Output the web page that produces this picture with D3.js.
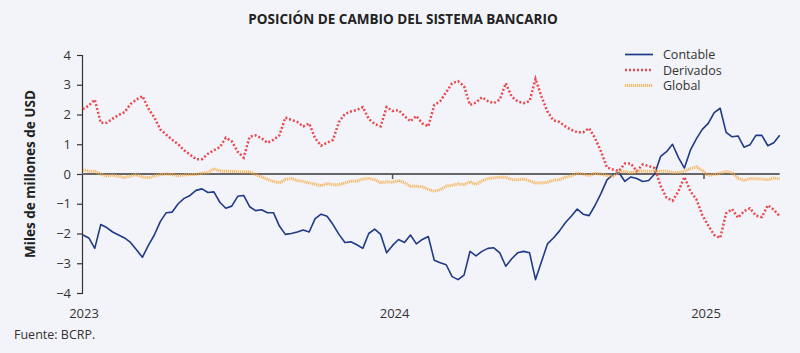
<!DOCTYPE html>
<html>
<head>
<meta charset="utf-8">
<script src="https://cdn.jsdelivr.net/npm/d3@7"></script>
<style>
    body { margin: 0; background: #f3f4f9; }
    svg { display: block; font-family: 'Open Sans', sans-serif; }
</style>
</head>
<body>
<svg></svg>
<script>
const w = 800;
const h = 353;

// weekly observations, Jan 2023 - Mar 2025 (values in miles de millones USD)
const startDate = new Date(2023, 0, 2);
const endDate = new Date(2025, 3, 1);

const contable = [
    -2.05, -2.15, -2.5, -1.7, -1.8, -1.95, -2.05, -2.15, -2.3, -2.55,
    -2.8, -2.4, -2.05, -1.6, -1.3, -1.28, -1.0, -0.82, -0.72, -0.55,
    -0.5, -0.62, -0.6, -0.95, -1.15, -1.08, -0.75, -0.72, -1.1, -1.23,
    -1.2, -1.3, -1.3, -1.75, -2.03, -2.0, -1.95, -1.88, -1.95, -1.5,
    -1.35, -1.42, -1.7, -2.03, -2.3, -2.28, -2.38, -2.5, -2.0, -1.85,
    -2.03, -2.65, -2.4, -2.2, -2.3, -2.05, -2.35, -2.2, -2.1, -2.9,
    -2.98, -3.05, -3.45, -3.55, -3.4, -2.6, -2.75, -2.6, -2.5, -2.48,
    -2.65, -3.1, -2.85, -2.65, -2.6, -2.65, -3.55, -2.95, -2.35, -2.15,
    -1.92, -1.64, -1.42, -1.18, -1.35, -1.4, -1.05, -0.65, -0.2, -0.02,
    0.05, -0.25, -0.1, -0.15, -0.25, -0.22, 0.0, 0.59, 0.75, 1.0,
    0.55, 0.2, 0.8, 1.18, 1.5, 1.7, 2.06, 2.21, 1.4, 1.25,
    1.28, 0.9, 0.98, 1.3, 1.3, 0.95, 1.05, 1.3
];
const derivados = [
    2.18, 2.3, 2.5, 1.72, 1.72, 1.86, 1.98, 2.08, 2.35, 2.5,
    2.62, 2.2, 1.9, 1.5, 1.32, 1.15, 1.0, 0.8, 0.65, 0.5,
    0.5, 0.68, 0.8, 0.9, 1.22, 1.1, 0.75, 0.55, 1.25, 1.3,
    1.2, 1.05, 1.15, 1.3, 1.9, 1.82, 1.75, 1.6, 1.7, 1.2,
    0.95, 1.05, 1.15, 1.75, 2.02, 2.1, 2.15, 2.25, 1.85, 1.68,
    1.6, 2.25, 2.12, 2.15, 1.95, 1.77, 1.95, 1.7, 1.6, 2.32,
    2.45, 2.75, 3.05, 3.12, 2.95, 2.32, 2.4, 2.58, 2.45, 2.38,
    2.5, 3.05, 2.6, 2.44, 2.38, 2.45, 3.2, 2.6, 2.1, 1.8,
    1.75, 1.6, 1.49, 1.4, 1.4, 1.54, 1.2, 0.75, 0.22, 0.15,
    0.1, 0.35, 0.35, 0.1, 0.32, 0.27, 0.2, -0.4, -0.8, -0.9,
    -0.58, -0.1, -0.58, -0.85, -1.38, -1.73, -2.05, -2.15, -1.32, -1.18,
    -1.47, -1.25, -1.15, -1.4, -1.45, -1.05, -1.2, -1.42
];
const global = [
    0.14, 0.09, 0.09, 0.0, -0.07, -0.04, -0.08, -0.12, -0.07, -0.02,
    -0.1, -0.13, -0.07, -0.02, 0.0, -0.02, -0.06, -0.03, -0.02, -0.02,
    0.03, 0.05, 0.18, 0.1, 0.09, 0.09, 0.08, 0.07, 0.08, -0.02,
    -0.1, -0.18, -0.25, -0.3, -0.18, -0.15, -0.22, -0.25, -0.3, -0.34,
    -0.4, -0.32, -0.36, -0.36, -0.3, -0.24, -0.24, -0.17, -0.15, -0.19,
    -0.3, -0.26, -0.28, -0.22, -0.29, -0.41, -0.41, -0.43, -0.52, -0.58,
    -0.53, -0.41, -0.38, -0.33, -0.36, -0.26, -0.35, -0.24, -0.15, -0.13,
    -0.11, -0.11, -0.19, -0.19, -0.17, -0.23, -0.3, -0.3, -0.28, -0.21,
    -0.19, -0.11, -0.06, 0.03, 0.0, -0.06, 0.02, 0.0, -0.05, -0.08,
    0.07, 0.09, 0.04, 0.09, 0.1, 0.09, 0.1, 0.09, 0.1, 0.05,
    0.05, 0.1, 0.18, 0.24, 0.12, -0.05, -0.02, 0.03, 0.09, 0.05,
    -0.15, -0.21, -0.16, -0.16, -0.17, -0.19, -0.14, -0.16
];

const yTicks = [-4, -3, -2, -1, 0, 1, 2, 3, 4];
const yearTicks = [new Date(2023, 0, 1), new Date(2024, 0, 1), new Date(2025, 0, 1)];

const seriesNames = ['Contable', 'Derivados', 'Global'];
const seriesColors = ['#1f3a87', '#ea4a4f', '#f6a941'];

const dates = d3.timeMonday.range(startDate, endDate);

const svg = d3.select('svg').attr('width', w).attr('height', h);

svg.append('rect').attr('width', w).attr('height', h).attr('fill', '#f3f4f9');

const xScale = d3
    .scaleTime()
    .domain([new Date(2023, 0, 1), new Date(2025, 0, 1)])
    .range([82, 704]);
const yScale = d3
    .scaleLinear()
    .domain([-4, 4])
    .range([293, 55]);

// title
svg.append('text')
    .attr('x', 403)
    .attr('y', 24)
    .attr('text-anchor', 'middle')
    .attr('font-size', 13.5)
    .attr('font-weight', 'bold')
    .attr('fill', '#222')
    .text('POSICIÓN DE CAMBIO DEL SISTEMA BANCARIO');

// y axis
const yAxis = d3.axisLeft(yScale).tickValues(yTicks).tickSize(5).tickPadding(6);
const gy = svg.append('g')
    .attr('transform', 'translate(82,0)')
    .call(yAxis);
gy.select('.domain').attr('stroke', '#333').attr('stroke-width', 1.2);
gy.selectAll('.tick line').attr('stroke', '#333').attr('stroke-width', 1.2);
gy.selectAll('.tick text')
    .attr('font-size', 13)
    .attr('fill', '#333')
    .attr('font-family', "'Open Sans', sans-serif");

svg.append('text')
    .attr('transform', 'translate(35,' + yScale(0) + ') rotate(-90)')
    .attr('text-anchor', 'middle')
    .attr('font-size', 13.5)
    .attr('font-weight', 'bold')
    .attr('fill', '#222')
    .text('Miles de millones de USD');

// zero line works as x axis
svg.append('line')
    .attr('x1', 82)
    .attr('x2', xScale(dates[dates.length - 1]))
    .attr('y1', yScale(0))
    .attr('y2', yScale(0))
    .attr('stroke', '#666')
    .attr('stroke-width', 2);

svg.selectAll('.year-tick')
    .data(yearTicks.slice(1))
    .enter()
    .append('line')
    .attr('x1', (d) => xScale(d))
    .attr('x2', (d) => xScale(d))
    .attr('y1', yScale(0))
    .attr('y2', yScale(0) + 5)
    .attr('stroke', '#555')
    .attr('stroke-width', 1.5);

svg.selectAll('.year-label')
    .data(yearTicks)
    .enter()
    .append('text')
    .attr('x', (d) => xScale(d) + 2)
    .attr('y', 318)
    .attr('text-anchor', 'middle')
    .attr('font-size', 13)
    .attr('fill', '#333')
    .text((d) => d.getFullYear());

// series
const line = d3
    .line()
    .x((d, i) => xScale(dates[i]))
    .y((d) => yScale(d));

svg.append('path')
    .datum(contable)
    .attr('d', line)
    .attr('fill', 'none')
    .attr('stroke', seriesColors[0])
    .attr('stroke-width', 1.6)
    .attr('stroke-linejoin', 'round');

svg.append('path')
    .datum(derivados)
    .attr('d', line)
    .attr('fill', 'none')
    .attr('stroke', seriesColors[1])
    .attr('stroke-width', 2.5)
    .attr('stroke-dasharray', '2,2');

svg.append('path')
    .datum(global)
    .attr('d', line)
    .attr('fill', 'none')
    .attr('stroke', seriesColors[2])
    .attr('stroke-opacity', 0.8)
    .attr('stroke-width', 3)
    .attr('stroke-dasharray', '1.2,0.8');

// legend
const dashes = [null, '2,2', '1.2,0.8'];
const widths = [1.7, 2.5, 3];
const legend = svg.selectAll('.legend')
    .data(seriesNames)
    .enter()
    .append('g')
    .attr('transform', (d, i) => 'translate(625,' + (54.5 + i * 15.5) + ')');
legend.append('line')
    .attr('x1', 0)
    .attr('x2', 28)
    .attr('stroke', (d, i) => seriesColors[i])
    .attr('stroke-opacity', (d, i) => (i === 2 ? 0.8 : 1))
    .attr('stroke-width', (d, i) => widths[i])
    .attr('stroke-dasharray', (d, i) => dashes[i]);
legend.append('text')
    .attr('x', 38)
    .attr('y', 4.5)
    .attr('font-size', 12.5)
    .attr('fill', '#333')
    .text((d) => d);

svg.append('text')
    .attr('x', 14)
    .attr('y', 339)
    .attr('font-size', 12.5)
    .attr('fill', '#333')
    .text('Fuente: BCRP.');
</script>
</body>
</html>
